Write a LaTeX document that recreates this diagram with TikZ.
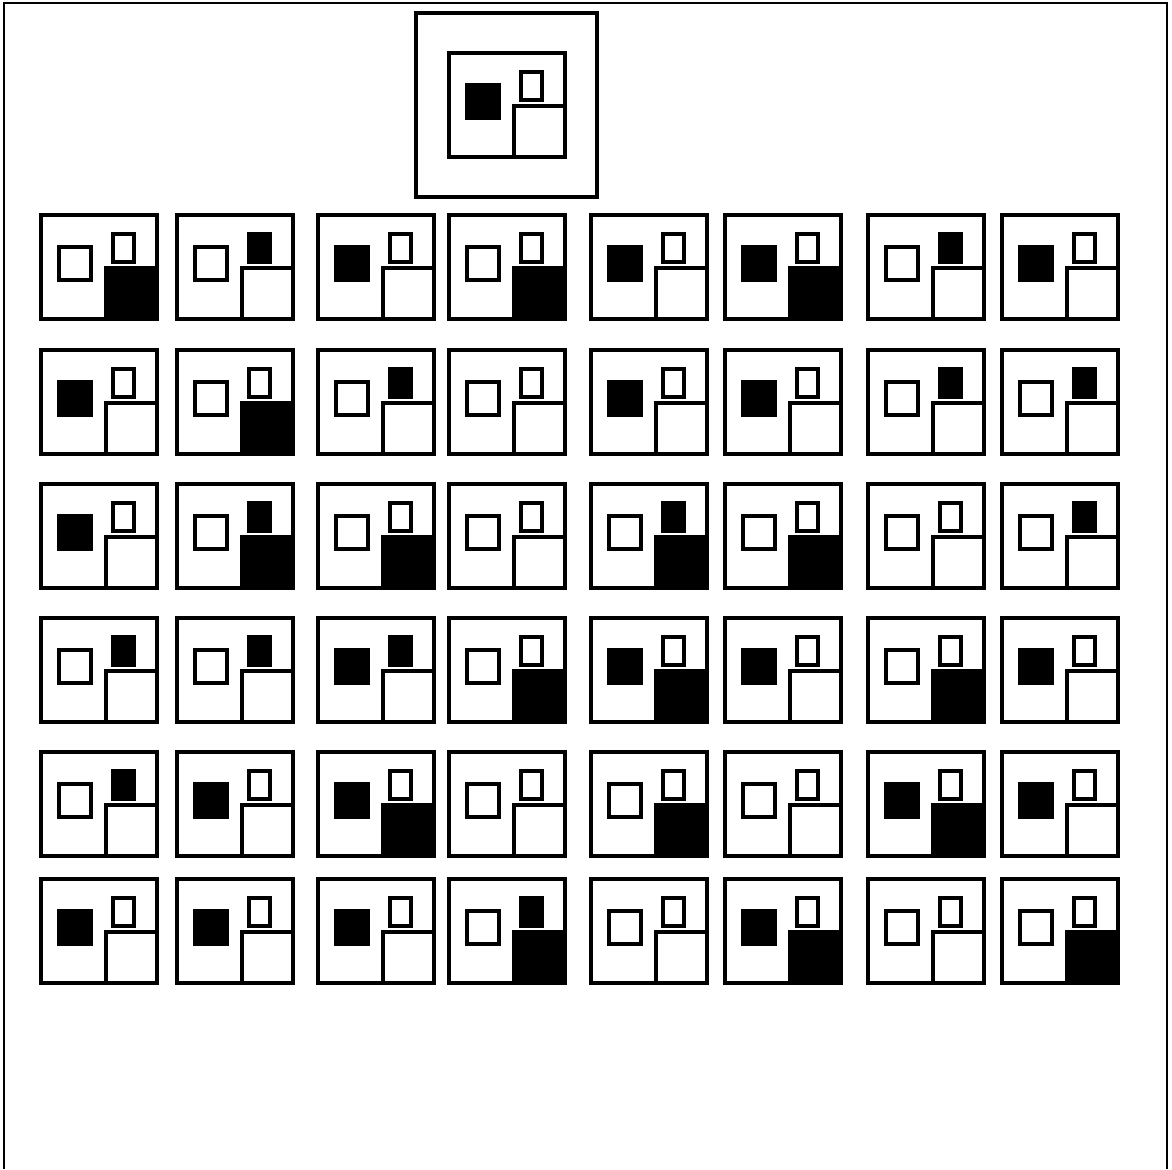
\documentclass[tikz,border=0pt]{standalone}
\usepackage{tikz}
\colorlet{k}{black}
\colorlet{w}{white}
\tikzset{
  every picture/.style={line join=miter},
  frame/.style={line width=1pt},
  holder/.style={line width=1.7pt},
  cardbox/.style={line width=2pt},
  part/.style={line width=1.8pt},
}
% one card: top left corner, then fills of left box, small box, corner box
\newcommand{\card}[5]{%
  \begin{scope}[shift={(#1,#2)}]
    \draw[part,fill=#3](18,32)rectangle(50,65);
    \draw[part,fill=#4](72,19)rectangle(93,47);
    \draw[part,fill=#5](65,53)rectangle(116,104);
    \draw[cardbox](0,0)rectangle(116,104);
  \end{scope}}

\begin{document}
\begin{tikzpicture}[x=0.5pt,y=-0.5pt]
\useasboundingbox(0,0)rectangle(1172,1169);
% page frame, open at the bottom
\draw[frame](4,1169)--(4,3)--(1167,3)--(1167,1169);
% sample card
\draw[holder](416,13)rectangle(597,197);
\card{449}{53}{k}{w}{w}
% 6 rows of 8 cards
\foreach \pl/\ps/\pb [count=\i from 0] in {
  w/w/k, w/k/w, k/w/w, w/w/k, k/w/w, k/w/k, w/k/w, k/w/w,
  k/w/w, w/w/k, w/k/w, w/w/w, k/w/w, k/w/w, w/k/w, w/k/w,
  k/w/w, w/k/k, w/w/k, w/w/w, w/k/k, w/w/k, w/w/w, w/k/w,
  w/k/w, w/k/w, k/k/w, w/w/k, k/w/k, k/w/w, w/w/k, k/w/w,
  w/k/w, k/w/w, k/w/k, w/w/w, w/w/k, w/w/w, k/w/k, k/w/w,
  k/w/w, k/w/w, k/w/w, w/k/k, w/w/w, k/w/k, w/w/w, w/w/k}{
  \pgfmathsetmacro\cx{{41,177,318,449,591,725,868,1002}[int(mod(\i,8))]}
  \pgfmathsetmacro\cy{{215,350,484,618,752,879}[int(\i/8)]}
  \card{\cx}{\cy}{\pl}{\ps}{\pb}
}
\end{tikzpicture}
\end{document}
